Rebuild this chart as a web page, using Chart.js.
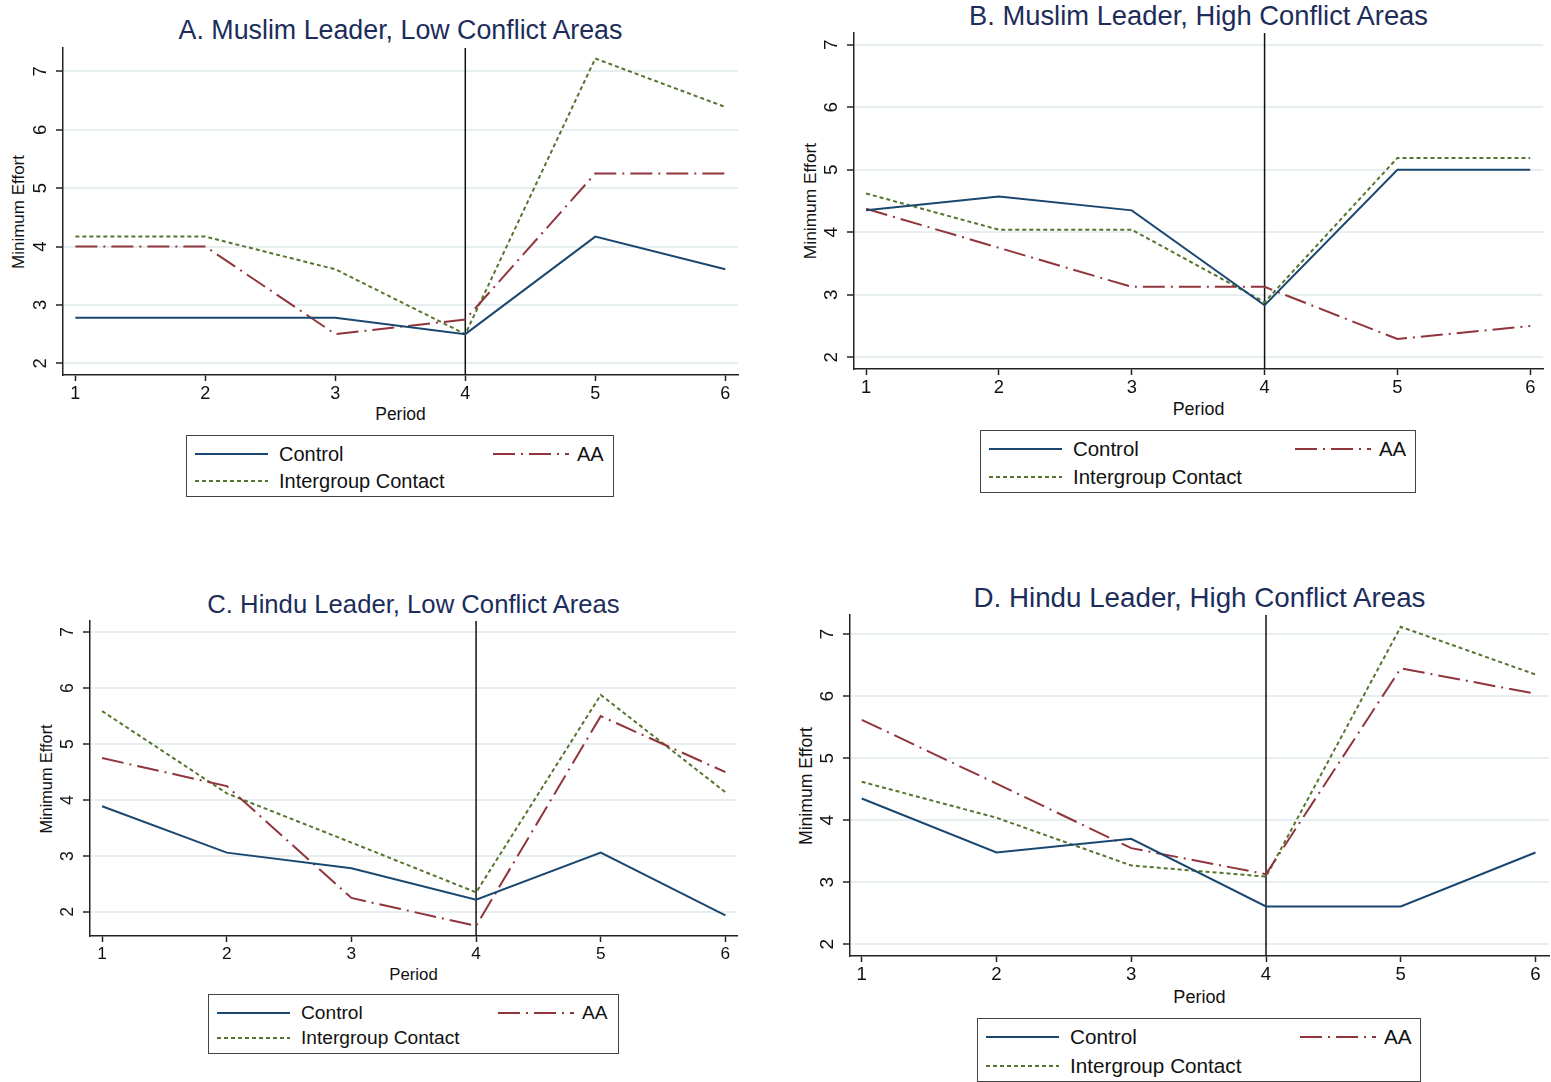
<!DOCTYPE html>
<html>
<head>
<meta charset="utf-8">
<script src="https://cdn.jsdelivr.net/npm/chart.js@4.4.1/dist/chart.umd.min.js"></script>
<style>
  body { margin: 0; width: 1551px; height: 1082px; background: #fff; position: relative; overflow: hidden;
         font-family: "Liberation Sans", Arial, Helvetica, sans-serif; }
  .abs { position: absolute; white-space: nowrap; }
  .title { color: #1c2d5a; transform: translate(-50%, -50%); }
  .xtitle { color: #111; transform: translate(-50%, -50%); }
  .ytitle { color: #111; transform: translate(-50%, -50%) rotate(-90deg); }
  .legend { border: 1.5px solid #444; box-sizing: border-box; background: #fff; }
  .legend .lab { color: #111; transform: translateY(-50%); }
  .legend svg { position: absolute; overflow: visible; }
</style>
</head>
<body>
<script>
// the four panels
const periods = [1, 2, 3, 4, 5, 6];
const yTicks = [2, 3, 4, 5, 6, 7];
const breakPeriod = 4;
const seriesNames = ["Control", "AA", "Intergroup Contact"];
const titles = [
  "A. Muslim Leader, Low Conflict Areas",
  "B. Muslim Leader, High Conflict Areas",
  "C. Hindu Leader, Low Conflict Areas",
  "D. Hindu Leader, High Conflict Areas"
];

const controlA = [2.78, 2.78, 2.78, 2.5, 4.17, 3.61];
const aaA      = [4.0, 4.0, 2.5, 2.75, 5.25, 5.25];
const icA      = [4.17, 4.17, 3.61, 2.5, 7.22, 6.39];

const controlB = [4.35, 4.57, 4.35, 2.83, 5.0, 5.0];
const aaB      = [4.375, 3.75, 3.125, 3.125, 2.29, 2.5];
const icB      = [4.62, 4.04, 4.04, 2.88, 5.19, 5.19];

const controlC = [3.89, 3.06, 2.78, 2.22, 3.06, 1.94];
const aaC      = [4.75, 4.25, 2.25, 1.75, 5.5, 4.5];
const icC      = [5.59, 4.12, 3.24, 2.35, 5.88, 4.14];

const controlD = [4.35, 3.48, 3.7, 2.61, 2.61, 3.48];
const aaD      = [5.62, 4.59, 3.55, 3.13, 6.45, 6.04];
const icD      = [4.62, 4.04, 3.27, 3.09, 7.12, 6.35];

const panelData = [
  [controlA, aaA, icA],
  [controlB, aaB, icB],
  [controlC, aaC, icC],
  [controlD, aaD, icD]
];

// line styles (stata s2color-ish)
const colors = ["#1a476f", "#90353b", "#55752f"];
const dashes = [[], [22, 6, 2, 6], [4, 3]];

// where each plot region sits on the page
const frames = [
  { L: 63,  T: 48,  R: 738,  B: 375, xMin: 0.905, xMax: 6.098, yMin: 1.80, yMax: 7.40, titleY: 30,    periodY: 414, legend: [186, 435, 428, 62] },
  { L: 854, T: 33,  R: 1543, B: 369, xMin: 0.909, xMax: 6.096, yMin: 1.81, yMax: 7.19, titleY: 16,    periodY: 409, legend: [980, 430, 436, 63] },
  { L: 90,  T: 621, R: 737,  B: 936, xMin: 0.903, xMax: 6.093, yMin: 1.57, yMax: 7.20, titleY: 604,   periodY: 975, legend: [208, 994, 411, 60] },
  { L: 850, T: 615, R: 1549, B: 956, xMin: 0.913, xMax: 6.10,  yMin: 1.81, yMax: 7.31, titleY: 597.5, periodY: 997, legend: [977, 1018, 444, 64] }
];

const FONT = '"Liberation Sans", Arial, Helvetica, sans-serif';
Chart.defaults.font.family = FONT;
Chart.defaults.color = "#111";

const YW = 60, XH = 38, PAD = 6;

// vertical line at period 4 + rotated y tick labels
const extras = {
  id: "extras",
  beforeDatasetsDraw(chart) {
    const { ctx, chartArea, scales } = chart;
    const x = scales.x.getPixelForValue(breakPeriod);
    ctx.save();
    ctx.strokeStyle = "#111";
    ctx.lineWidth = 1.5;
    ctx.beginPath();
    ctx.moveTo(x, chartArea.top);
    ctx.lineTo(x, chartArea.bottom);
    ctx.stroke();
    ctx.restore();
  },
  afterDraw(chart, args, opts) {
    const { ctx, chartArea, scales } = chart;
    ctx.save();
    ctx.fillStyle = "#111";
    ctx.font = opts.size + "px " + FONT;
    ctx.textAlign = "center";
    ctx.textBaseline = "middle";
    yTicks.forEach((v) => {
      const y = scales.y.getPixelForValue(v);
      ctx.save();
      ctx.translate(chartArea.left - 22, y);
      ctx.rotate(-Math.PI / 2);
      ctx.fillText(String(v), 0, 0);
      ctx.restore();
    });
    ctx.restore();
  }
};

function addDiv(cls, text, left, top, size) {
  const d = document.createElement("div");
  d.className = "abs " + cls;
  d.textContent = text;
  d.style.left = left + "px";
  d.style.top = top + "px";
  d.style.fontSize = size + "px";
  document.body.appendChild(d);
  return d;
}

function addLab(parent, text, left, top, size) {
  const d = document.createElement("div");
  d.className = "abs lab";
  d.textContent = text;
  d.style.left = left + "px";
  d.style.top = top + "px";
  d.style.fontSize = size + "px";
  parent.appendChild(d);
}

function sample(parent, i, left, top, width) {
  const ns = "http://www.w3.org/2000/svg";
  const svg = document.createElementNS(ns, "svg");
  svg.setAttribute("width", width);
  svg.setAttribute("height", 4);
  svg.style.left = left + "px";
  svg.style.top = (top - 2) + "px";
  const ln = document.createElementNS(ns, "line");
  ln.setAttribute("x1", 0);
  ln.setAttribute("y1", 2);
  ln.setAttribute("x2", width);
  ln.setAttribute("y2", 2);
  ln.setAttribute("stroke", colors[i]);
  ln.setAttribute("stroke-width", 2);
  if (dashes[i].length) ln.setAttribute("stroke-dasharray", dashes[i].join(" "));
  svg.appendChild(ln);
  parent.appendChild(svg);
}

frames.forEach((f, p) => {
  const s = (f.R - f.L) / 675;
  const cx = (f.L + f.R) / 2;

  addDiv("title", titles[p], cx, f.titleY, 26.8 * s);
  addDiv("xtitle", "Period", cx, f.periodY, 17.5 * s);
  addDiv("ytitle", "Minimum Effort", f.L - 44, (f.T + f.B) / 2, 17 * s);

  // legend box
  const [lx, ly, lw, lh] = f.legend;
  const box = document.createElement("div");
  box.className = "abs legend";
  Object.assign(box.style, { left: lx + "px", top: ly + "px", width: lw + "px", height: lh + "px" });
  document.body.appendChild(box);
  const r1 = 18, r2 = lh - 17;
  const fs = 20 * s;
  sample(box, 0, 8, r1, 73);
  addLab(box, seriesNames[0], 92, r1, fs);
  sample(box, 1, lw - 122, r1, 76);
  addLab(box, seriesNames[1], lw - 38, r1, fs);
  sample(box, 2, 8, r2, 73);
  addLab(box, seriesNames[2], 92, r2, fs);

  // chart canvas
  const canvas = document.createElement("canvas");
  const cw = f.R - f.L + YW + PAD;
  const ch = f.B - f.T + PAD + XH;
  canvas.width = cw;
  canvas.height = ch;
  Object.assign(canvas.style, {
    position: "absolute", left: (f.L - YW) + "px", top: (f.T - PAD) + "px",
    width: cw + "px", height: ch + "px"
  });
  document.body.appendChild(canvas);

  new Chart(canvas, {
    type: "line",
    data: {
      datasets: panelData[p].map((vals, i) => ({
        label: seriesNames[i],
        data: periods.map((x, k) => ({ x: x, y: vals[k] })),
        borderColor: colors[i],
        borderWidth: 2,
        borderDash: dashes[i],
        pointRadius: 0,
        tension: 0,
        fill: false
      }))
    },
    options: {
      responsive: false,
      animation: false,
      devicePixelRatio: 1,
      layout: { padding: { top: PAD, right: PAD, left: 0, bottom: 0 } },
      plugins: {
        legend: { display: false },
        tooltip: { enabled: false },
        extras: { size: 18.5 * s }
      },
      scales: {
        x: {
          type: "linear",
          min: f.xMin,
          max: f.xMax,
          afterBuildTicks: (sc) => { sc.ticks = periods.map((v) => ({ value: v })); },
          afterFit: (sc) => { sc.height = XH; },
          ticks: { font: { size: 18 * s }, color: "#111", padding: 2 },
          grid: { drawOnChartArea: false, drawTicks: true, tickLength: 6, tickColor: "#222", tickWidth: 1.5 },
          border: { color: "#222", width: 1.5 }
        },
        y: {
          type: "linear",
          min: f.yMin,
          max: f.yMax,
          afterBuildTicks: (sc) => { sc.ticks = yTicks.map((v) => ({ value: v })); },
          afterFit: (sc) => { sc.width = YW; },
          ticks: { display: false },
          grid: { color: "#e6eef0", lineWidth: 2, drawTicks: true, tickLength: 7, tickColor: "#222", tickWidth: 1.5 },
          border: { color: "#222", width: 1.5 }
        }
      }
    },
    plugins: [extras]
  });
});
</script>
</body>
</html>
